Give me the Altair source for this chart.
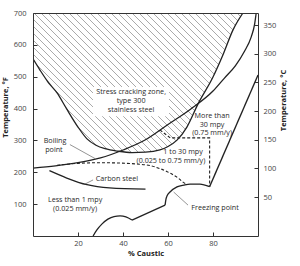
import altair as alt
import pandas as pd
import numpy as np

# ---------------- data ----------------
boil_x = [0, 10, 20, 30, 40, 50, 60, 70, 80, 85, 90, 94, 97, 98.5, 99.2]
boil_f = [213, 220, 230, 245, 270, 302, 350, 398, 455, 495, 535, 580, 625, 665, 700]

scc_x = [0, 3.1, 6.5, 10.7, 14.7, 20, 24, 28, 32, 38, 44, 50, 56.4, 60, 64, 68.4, 73.3, 80, 84.4, 88.9, 93.3]
scc_f = [556, 521, 485, 449, 402, 342, 305, 285, 274, 266, 262, 263, 270, 281, 301, 342, 414, 499, 568, 647, 700]

carbon_x = [7.3, 15, 24, 34, 50]
carbon_f = [205, 182, 161, 151, 147]

freeze_a_x = [26.7, 28.4, 30.7, 33.3, 36, 38.7, 41.3, 44]
freeze_a_f = [0, 19, 38, 53, 61, 63, 60, 50]
freeze_b_x = [44, 58.7]
freeze_b_f = [50, 97]
freeze_c_x = [58.7, 59.1, 59.6, 60.9, 64, 67.1, 69.8, 74.2, 78.5]
freeze_c_f = [97, 116, 126, 138, 154, 160, 163, 163, 155]

high_x = [78.5, 100]
high_f = [155, 505]

upper_dash_x = [56.4, 61, 78.5, 78.5]
upper_dash_f = [333, 308, 308, 155]

lower_dash_x = [10.7, 20, 30, 38.7, 46, 52, 57, 61, 64.5, 66.7, 68.4]
lower_dash_f = [222, 228, 230, 229, 226, 221, 210, 197, 182, 169, 162]

f_ticks = [100, 200, 300, 400, 500, 600, 700]
c_ticks_in_f = [122, 212, 302, 392, 482, 572, 662]   # 50..350 °C
x_ticks = [20, 40, 60, 80]

labels_text = ["Stress cracking zone,", "type 300", "stainless steel",
               "More than", "30 mpy", "(0.75 mm/y)",
               "1 to 30 mpy", "(0.025 to 0.75 mm/y)",
               "Boiling", "point", "Carbon steel",
               "Less than 1 mpy", "(0.025 mm/y)", "Freezing point"]
labels_x = [43.6, 43.6, 43.6, 79.6, 79.6, 79.6, 66.7, 61.3, 9.8, 9.3, 37.3, 18.7, 18.7, 80.9]
labels_f = [452, 424, 395, 377, 350, 323, 264, 235, 298, 270, 179, 113, 85, 88]

leader_x = [16.4, 26.7, 62.5]
leader_x2 = [27.6, 23.1, 68.9]
leader_f = [287, 176, 138]
leader_f2 = [243, 163, 97]

# white gap in the hatching behind the stress-cracking label
gap_x = [26.7, 60.4]
gap_f = [376, 467]

# ---------------- frames ----------------
def frame(name, xs, fs):
    return pd.DataFrame({"series": name, "x": xs, "f": fs, "i": range(len(xs))})

smooth_df = pd.concat([
    frame("boiling", boil_x, boil_f),
    frame("scc", scc_x, scc_f),
    frame("carbon", carbon_x, carbon_f),
    frame("freeze_a", freeze_a_x, freeze_a_f),
    frame("freeze_b", freeze_b_x, freeze_b_f),
    frame("freeze_c", freeze_c_x, freeze_c_f),
    frame("high", high_x, high_f),
])
lower_dash_df = frame("lower", lower_dash_x, lower_dash_f)
upper_dash_df = frame("upper", upper_dash_x, upper_dash_f)

# hatching: 45° lines, clipped to the region above the stress-cracking boundary
W, H = 225, 223
KX, KF = W / 100, H / 700
rows = []
for lid, c in enumerate(np.arange(-H, W, 7.0)):
    px = np.arange(max(0.0, c), min(W, c + H) + 0.001, 0.25)
    if len(px) < 2:
        continue
    py = px - c
    xd = px / KX
    fd = 700 - py / KF
    bound = np.interp(xd, scc_x, scc_f, right=1e9)
    inside = fd >= bound
    inside &= ~((xd > gap_x[0]) & (xd < gap_x[1]) & (fd > gap_f[0]) & (fd < gap_f[1]))
    idx = np.flatnonzero(inside)
    if len(idx) == 0:
        continue
    runs = np.split(idx, np.flatnonzero(np.diff(idx) > 1) + 1)
    for r, run in enumerate(runs):
        if len(run) < 2:
            continue
        a, b = run[0], run[-1]
        rows.append({"line": f"{lid}_{r}", "x": xd[a], "f": fd[a], "i": 0})
        rows.append({"line": f"{lid}_{r}", "x": xd[b], "f": fd[b], "i": 1})
hatch_df = pd.DataFrame(rows)

text_df = pd.DataFrame({"t": labels_text, "x": labels_x, "f": labels_f})
leader_df = pd.DataFrame({"x": leader_x, "x2": leader_x2, "f": leader_f, "f2": leader_f2})

# ---------------- scales & axes ----------------
XS = alt.Scale(domain=[0, 100], nice=False, zero=False)
YS = alt.Scale(domain=[0, 700], nice=False, zero=False)
FONT = "Open Sans"
INK = "#333333"

common = dict(labelFont=FONT, labelFontSize=7.5, labelColor="#444444",
              titleFont=FONT, titleFontSize=7.5, titleFontWeight="bold", titleColor="#222222",
              grid=False, domainColor=INK, domainWidth=1, zindex=1)

ax_bottom = alt.Axis(orient="bottom", values=x_ticks, ticks=False, labelPadding=3,
                     title="% Caustic", titleY=17, titleBaseline="middle", **common)
ax_bottom_t = alt.Axis(orient="bottom", values=x_ticks, labels=False, domain=False, ticks=True,
                       tickSize=4, offset=-4, tickColor=INK, title=None, grid=False, zindex=1)
ax_top = alt.Axis(orient="top", labels=False, ticks=False, domain=True, domainColor=INK,
                  title=None, grid=False, zindex=1)
ax_left = alt.Axis(orient="left", values=f_ticks, ticks=False, labelPadding=7,
                   title="Temperature, °F", titleAngle=270, titleX=-28, titleY=94,
                   titleBaseline="middle", **common)
ax_left_t = alt.Axis(orient="left", values=f_ticks, labels=False, domain=False, ticks=True,
                     tickSize=4, offset=-4, tickColor=INK, title=None, grid=False, zindex=1)
ax_right = alt.Axis(orient="right", values=c_ticks_in_f, ticks=False, labelPadding=5,
                    labelExpr="'' + round((datum.value - 32) * 5 / 9)",
                    title="Temperature, °C", titleAngle=270, titleX=25, titleY=87,
                    titleBaseline="middle", **common)
ax_right_t = alt.Axis(orient="right", values=c_ticks_in_f, labels=False, domain=False, ticks=True,
                      tickSize=4, offset=-4, tickColor=INK, title=None, grid=False, zindex=1)

def X(axis=None, field="x"):
    return alt.X(f"{field}:Q", scale=XS, axis=axis)

def Y(axis=None, field="f"):
    return alt.Y(f"{field}:Q", scale=YS, axis=axis)

# ---------------- layers ----------------
hatch = alt.Chart(hatch_df).mark_line(clip=True, color="#858585", strokeWidth=0.7).encode(
    x=X(ax_bottom), y=Y(ax_left), detail="line:N", order="i:Q")

smooth = alt.Chart(smooth_df).mark_line(color="#222222", strokeWidth=1.3,
                                        interpolate="monotone", clip=True).encode(
    x=X(ax_top), y=Y(ax_right), detail="series:N", order="i:Q")

lower = alt.Chart(lower_dash_df).mark_line(color="#222222", strokeWidth=1.1, strokeDash=[3, 2],
                                           interpolate="monotone").encode(
    x=X(), y=Y(ax_right_t), order="i:Q")

upper = alt.Chart(upper_dash_df).mark_line(color="#222222", strokeWidth=1.1,
                                           strokeDash=[3, 2]).encode(
    x=X(), y=Y(), order="i:Q")

leaders = alt.Chart(leader_df).mark_rule(color="#666666", strokeWidth=0.7).encode(
    x=X(ax_bottom_t), x2="x2:Q", y=Y(ax_left_t), y2="f2:Q")

texts = alt.Chart(text_df).mark_text(font=FONT, fontSize=7.2, color="#2a2a2a",
                                     align="center", baseline="middle").encode(
    x=X(), y=Y(), text="t:N")

chart = alt.layer(hatch, smooth, lower, upper, leaders, texts).resolve_axis(
    x="independent", y="independent"
).resolve_scale(x="shared", y="shared").properties(
    width=W, height=H,
    padding={"left": 33, "top": 13, "right": 42, "bottom": 30},
    autosize=alt.AutoSizeParams(type="none"),
    background="white",
).configure_view(stroke=None)

chart.save("out.html", embed_options={"renderer": "svg", "actions": False})
